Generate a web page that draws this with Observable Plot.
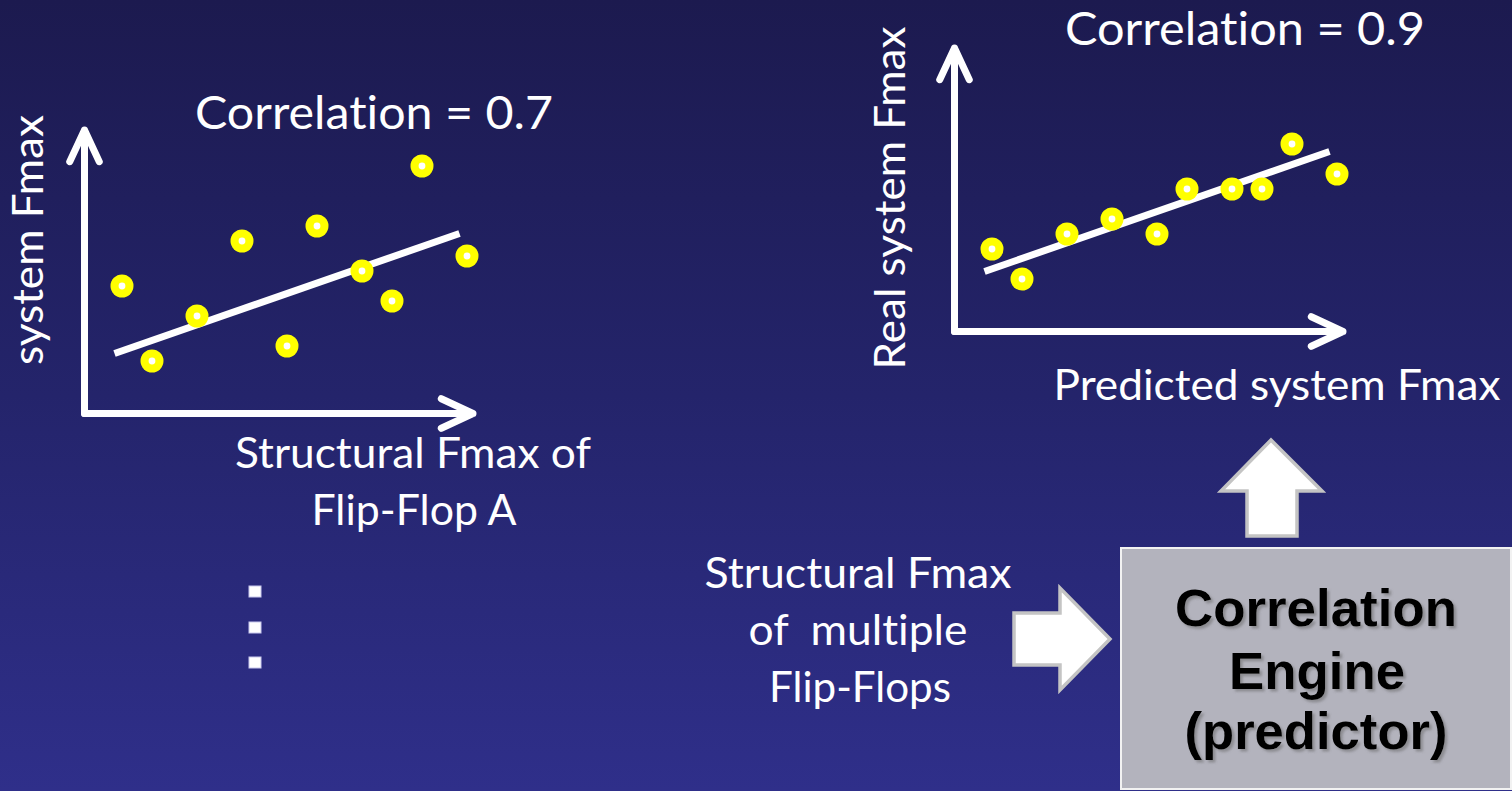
<!DOCTYPE html>
<html>
<head>
<meta charset="utf-8">
<script src="https://cdn.jsdelivr.net/npm/d3@7"></script>
<script src="https://cdn.jsdelivr.net/npm/@observablehq/plot@0.6"></script>
<style>
  html, body { margin: 0; padding: 0; overflow: hidden; background: #24246a; }
  #slide { position: relative; width: 1512px; height: 791px; overflow: hidden;
           background: linear-gradient(to bottom, #1c1a4f 0%, #24246b 50%, #2f2f8a 100%); }
  #slide > svg { position: absolute; }
  text { font-variant-ligatures: none; font-feature-settings: "liga" 0, "clig" 0; }
</style>
</head>
<body>
<div id="slide"></div>
<script>
// ---------------- data (arbitrary Fmax units) ----------------
const structuralFmaxA = [2.5, 4.5, 7.5, 10.5, 13.5, 15.5, 18.5, 20.5, 22.5, 25.5];
const systemFmaxA     = [8.5, 3.5, 6.5, 11.5, 4.5, 12.5, 9.5, 7.5, 16.5, 10.5];

const predictedFmax   = [2.5, 4.5, 7.5, 10.5, 13.5, 15.5, 18.5, 20.5, 22.5, 25.5];
const realFmax        = [5.5, 3.5, 6.5, 7.5, 6.5, 9.5, 9.5, 9.5, 12.5, 10.5];

// fitted trend lines (end points)
const trendAx = [2, 25], trendAy = [4, 12];
const trendBx = [2, 25], trendBy = [4, 12];

// axis extents (arrow tips)
const axisTipX = 25.9, axisTipY = 18.9;

// texts
const titles = ["Correlation = 0.7", "Correlation = 0.9"];
const leftXLabel = ["Structural Fmax of", "Flip-Flop A"];
const leftYLabel = "system Fmax";
const rightXLabel = "Predicted system Fmax";
const rightYLabel = "Real system Fmax";
const inputLabel = ["Structural Fmax", "of  multiple", "Flip-Flops"];
const engineLabel = ["Correlation", "Engine", "(predictor)"];

// ---------------- scatter plots ----------------
const slide = document.getElementById("slide");

function scatter(xs, ys, tx, ty, marginTop) {
  const pts = xs.map((x, i) => ({x, y: ys[i]}));
  const trend = tx.map((x, i) => ({x, y: ty[i]}));
  const axes = [
    {x1: 0, y1: 0, x2: axisTipX, y2: 0},
    {x1: 0, y1: 0, x2: 0, y2: axisTipY}
  ];
  return Plot.plot({
    width: 84 + 390 + 30,
    height: marginTop + 285 + 30,
    marginLeft: 84, marginRight: 30, marginTop, marginBottom: 30,
    x: {domain: [0, 26], axis: null},
    y: {domain: [0, 19], axis: null},
    style: {background: "transparent", overflow: "visible"},
    marks: [
      Plot.arrow(axes, {x1: "x1", y1: "y1", x2: "x2", y2: "y2", stroke: "white",
                        strokeWidth: 7, headLength: 7.5, headAngle: 50}),
      Plot.line(trend, {x: "x", y: "y", stroke: "white", strokeWidth: 7, strokeLinecap: "butt"}),
      Plot.dot(pts, {x: "x", y: "y", r: 11.5, fill: "#ffff00"}),
      Plot.dot(pts, {x: "x", y: "y", r: 3.4, fill: "white"})
    ]
  });
}

const left = scatter(structuralFmaxA, systemFmaxA, trendAx, trendAy, 128);
left.style.left = "0px"; left.style.top = "0px";
slide.appendChild(left);

const right = scatter(predictedFmax, realFmax, trendBx, trendBy, 46);
right.style.left = "870px"; right.style.top = "0px";
slide.appendChild(right);

// ---------------- overlay: texts, block arrows, engine box ----------------
const svg = d3.create("svg").attr("width", 1512).attr("height", 791)
  .style("left", "0px").style("top", "0px");

const defs = svg.append("defs");
defs.append("filter").attr("id", "shadow")
  .attr("x", "-10%").attr("y", "-10%").attr("width", "130%").attr("height", "130%")
  .append("feDropShadow").attr("dx", 2.5).attr("dy", 2.5).attr("stdDeviation", 1)
  .attr("flood-color", "#666").attr("flood-opacity", 0.5);

function label(str, x, y, w, size, opt = {}) {
  const t = svg.append("text")
    .attr("x", x).attr("y", y)
    .attr("text-anchor", "middle")
    .attr("font-family", opt.bold ? "'Liberation Sans', Arial, sans-serif" : "Lato, 'Open Sans', sans-serif")
    .attr("font-size", size)
    .attr("font-weight", opt.bold ? 700 : 400)
    .attr("fill", opt.bold ? "#000" : "#fff")
    .attr("textLength", w)
    .attr("lengthAdjust", "spacingAndGlyphs")
    .style("white-space", "pre")
    .text(str);
  if (opt.rotate) t.attr("transform", `rotate(${opt.rotate},${x},${y})`);
  if (opt.shadow) t.attr("filter", "url(#shadow)");
  return t;
}

// titles
label(titles[0], 374, 129, 358, 47);
label(titles[1], 1245, 45, 360, 47);

// left chart labels
label(leftYLabel, 43, 240, 250, 43, {rotate: -90});
label(leftXLabel[0], 413, 468, 356, 43);
label(leftXLabel[1], 414, 525, 205, 43);

// right chart labels
label(rightYLabel, 905, 198, 343, 43, {rotate: -90});
label(rightXLabel, 1277, 400, 447, 43);

// vertical ellipsis
[586, 622, 657].forEach(y =>
  svg.append("rect").attr("x", 249).attr("y", y).attr("width", 12).attr("height", 11)
     .attr("fill", "#fff").attr("stroke", "#c9c9ee").attr("stroke-width", 1));

// input label
label(inputLabel[0], 858, 588, 307, 43);
label(inputLabel[1], 858, 645, 219, 43);
label(inputLabel[2], 860, 702, 182, 43);

// block arrows
svg.append("polygon")
  .attr("points", "1014,613 1060,613 1060,588 1110,639 1060,690 1060,665 1014,665")
  .attr("fill", "#fff").attr("stroke", "#c4c4c4").attr("stroke-width", 3.5).attr("stroke-linejoin", "miter");
svg.append("polygon")
  .attr("points", "1271,440 1322,491 1297,491 1297,536 1247,536 1247,491 1221,491")
  .attr("fill", "#fff").attr("stroke", "#c4c4c4").attr("stroke-width", 3.5).attr("stroke-linejoin", "miter");

// engine box
svg.append("rect").attr("x", 1121).attr("y", 548).attr("width", 390).attr("height", 241)
  .attr("fill", "#b3b3bd").attr("stroke", "#f2f2f2").attr("stroke-width", 2);

label(engineLabel[0], 1316, 626, 282, 52, {bold: true, shadow: true});
label(engineLabel[1], 1317, 689, 176, 52, {bold: true, shadow: true});
label(engineLabel[2], 1316, 749, 263, 52, {bold: true, shadow: true});

slide.appendChild(svg.node());
</script>
</body>
</html>
